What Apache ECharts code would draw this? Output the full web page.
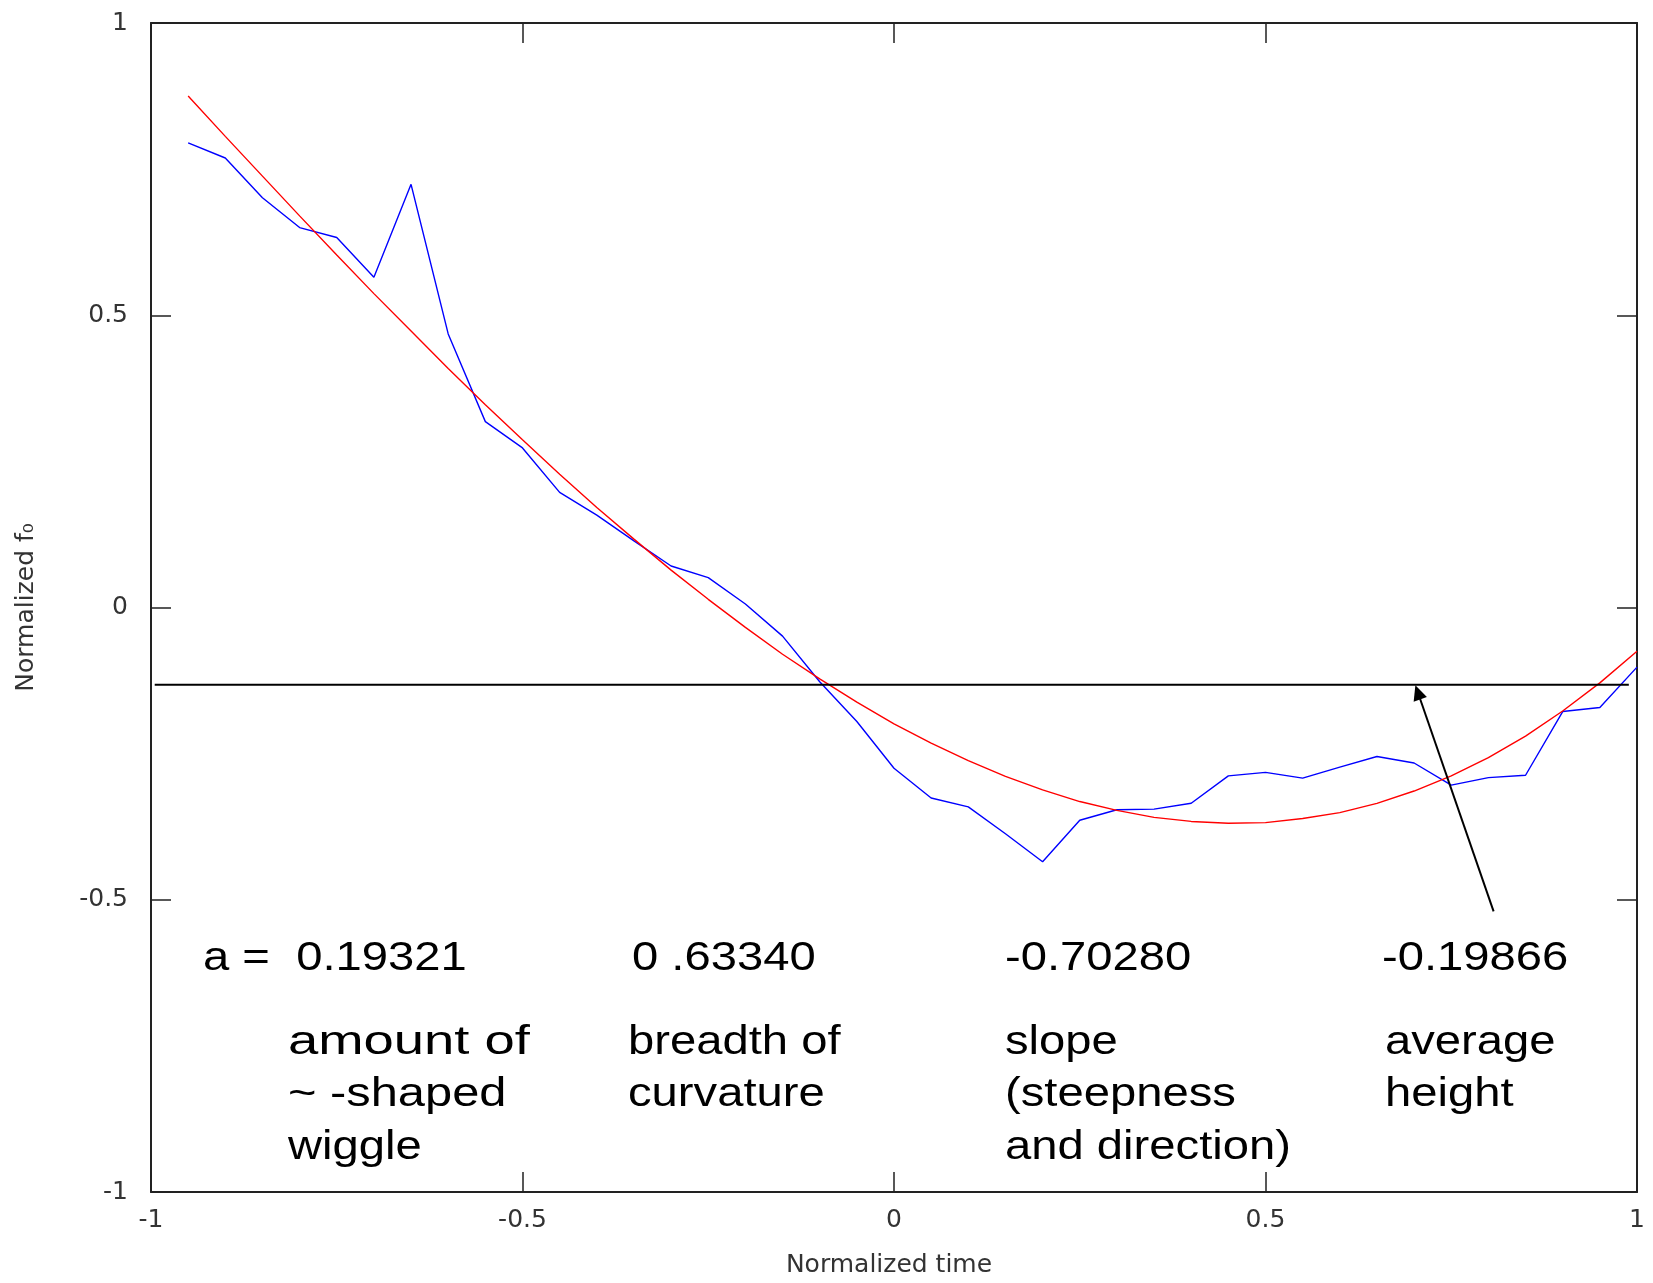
<!DOCTYPE html>
<html>
<head>
<meta charset="utf-8">
<title>Normalized f0 with polynomial fit</title>
<script src="https://cdn.jsdelivr.net/npm/echarts@6/dist/echarts.min.js"></script>
<style>
  html, body { margin: 0; padding: 0; background: #fff; }
  #chart { width: 1653px; height: 1283px; }
</style>
</head>
<body>
<div id="chart"></div>
<script>
// normalized time of each sample
const times = [-0.95, -0.9, -0.85, -0.8, -0.75, -0.7, -0.65, -0.6, -0.55, -0.5,
  -0.45, -0.4, -0.35, -0.3, -0.25, -0.2, -0.15, -0.1, -0.05, 0,
  0.05, 0.1, 0.15, 0.2, 0.25, 0.3, 0.35, 0.4, 0.45, 0.5,
  0.55, 0.6, 0.65, 0.7, 0.75, 0.8, 0.85, 0.9, 0.95, 1.0]
// measured f0 contour (blue)
const f0Measured = [0.795, 0.769, 0.701, 0.650, 0.633, 0.565, 0.724, 0.468, 0.318, 0.273,
  0.197, 0.158, 0.114, 0.071, 0.051, 0.006, -0.049, -0.127, -0.195, -0.275,
  -0.326, -0.341, -0.387, -0.435, -0.364, -0.346, -0.345, -0.335, -0.288, -0.282,
  -0.292, -0.273, -0.255, -0.266, -0.304, -0.291, -0.287, -0.178, -0.171, -0.102]
// fitted curve (red)
const f0Fitted = [0.875, 0.806, 0.738, 0.670, 0.603, 0.537, 0.473, 0.409, 0.347, 0.287,
  0.228, 0.171, 0.117, 0.064, 0.014, -0.034, -0.080, -0.122, -0.162, -0.199,
  -0.232, -0.262, -0.289, -0.312, -0.332, -0.347, -0.359, -0.366, -0.369, -0.368,
  -0.361, -0.351, -0.335, -0.314, -0.288, -0.257, -0.220, -0.177, -0.129, -0.075]
// horizontal "average height" line and the arrow pointing at it
const avgLevel = -0.132
const avgSpan = [-0.995, 0.989]
const arrowFrom = [0.807, -0.52]
const arrowTo = [0.705, -0.145]
// axis range / ticks
const axisMin = -1
const axisMax = 1
const axisStep = 0.5
// coefficient texts under the curve
const coefValues = ['a =  0.19321', '0 .63340', '-0.70280', '-0.19866']
const coefNotes = [
  ['amount of', '~ -shaped', 'wiggle'],
  ['breadth of', 'curvature'],
  ['slope', '(steepness', 'and direction)'],
  ['average', 'height']
]

const chart = echarts.init(document.getElementById('chart'))

const labelFont = {fontFamily: 'DejaVu Sans', fontSize: 25, color: '#333'}
const axisColor = '#222'

// one value axis, reused for the four sides of the box
function boxAxis (position, withLabels) {
  return {
    type: 'value',
    position: position,
    min: axisMin,
    max: axisMax,
    interval: axisStep,
    axisLine: {show: true, onZero: false, lineStyle: {color: axisColor, width: 2}},
    axisTick: {show: true, inside: true, length: 20, lineStyle: {color: axisColor, width: 1.5}},
    axisLabel: withLabels ? Object.assign({margin: position === 'bottom' ? 16 : 23}, labelFont) : {show: false},
    splitLine: {show: false}
  }
}

// big annotation texts (Arial-like, a bit wider than normal)
const stretch = {'amount of': 1.36, '~ -shaped': 1.22}
const valueLeft = [203, 632, 1005, 1382]
const noteLeft = [288, 628, 1005, 1385]
const valueMid = 959
const noteMid = [1043, 1095, 1148]
const graphics = []
function addText (text, x, y) {
  graphics.push({
    type: 'text',
    x: x,
    y: y,
    scaleX: stretch[text] || 1.18,
    silent: true,
    style: {
      text: text,
      x: 0,
      y: 0,
      fill: '#000',
      font: '40px "Liberation Sans", Arial, sans-serif',
      align: 'left',
      verticalAlign: 'middle'
    }
  })
}
coefValues.forEach((t, i) => addText(t, valueLeft[i], valueMid))
coefNotes.forEach((lines, i) => lines.forEach((t, j) => addText(t, noteLeft[i], noteMid[j])))

const option = {
  animation: false,
  backgroundColor: '#fff',
  grid: {left: 151, right: 16, top: 23, bottom: 89},
  xAxis: [
    Object.assign(boxAxis('bottom', true), {
      name: 'Normalized time',
      nameLocation: 'middle',
      nameGap: 61,
      nameTextStyle: Object.assign({padding: [0, 10, 0, 0]}, labelFont)
    }),
    boxAxis('top', false)
  ],
  yAxis: [
    Object.assign(boxAxis('left', true), {
      name: 'Normalized f\u2080',
      nameLocation: 'middle',
      nameGap: 112,
      nameTextStyle: labelFont
    }),
    boxAxis('right', false)
  ],
  series: [
    {
      name: 'measured',
      type: 'line',
      symbol: 'none',
      lineStyle: {color: '#0000ff', width: 1.4},
      data: times.map((t, i) => [t, f0Measured[i]])
    },
    {
      name: 'fit',
      type: 'line',
      symbol: 'none',
      lineStyle: {color: '#ff0000', width: 1.4},
      data: times.map((t, i) => [t, f0Fitted[i]])
    },
    {
      name: 'average',
      type: 'line',
      symbol: 'none',
      lineStyle: {color: '#000', width: 2},
      data: [[avgSpan[0], avgLevel], [avgSpan[1], avgLevel]],
      markLine: {
        silent: true,
        symbol: ['none', 'triangle'],
        symbolSize: [14, 15],
        label: {show: false},
        lineStyle: {color: '#000', width: 2, type: 'solid'},
        data: [[{coord: arrowFrom}, {coord: arrowTo}]]
      }
    }
  ],
  graphic: graphics
}

chart.setOption(option)
</script>
</body>
</html>
